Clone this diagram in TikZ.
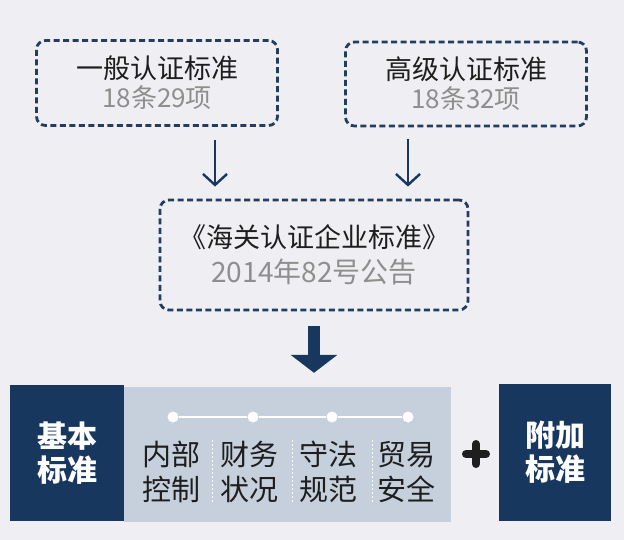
\documentclass[tikz,border=0pt]{standalone}
\usepackage{fontspec}
\setmainfont{Noto Sans CJK SC}
\usetikzlibrary{arrows.meta,positioning,calc}

\definecolor{navy}{HTML}{17375E}
\definecolor{dashnavy}{HTML}{223D5E}
\definecolor{paleblue}{HTML}{C6D0DC}
\definecolor{bggrey}{HTML}{EFEEF2}
\definecolor{subgrey}{HTML}{8E8E8E}
\definecolor{textblack}{HTML}{1E1E1E}

\tikzset{
  dashbox/.style={draw=dashnavy,line width=2.8pt,dash pattern=on 6pt off 3.5pt,
    rounded corners=9pt,align=center,text=textblack,inner sep=0pt,
    font=\fontsize{27}{29}\selectfont},
  thinarrow/.style={draw=navy,line width=2.4pt,-{Straight Barb[length=11pt,width=24pt]}},
  bigarrow/.style={draw=navy,line width=12pt,-{Triangle[length=18pt,width=46pt]}},
  darkbox/.style={fill=navy,text=white,align=center,inner sep=0pt,
    font=\bfseries\fontsize{30}{34}\selectfont},
  colnode/.style={align=center,text=textblack,font=\fontsize{29}{35}\selectfont},
  dot/.style={circle,fill=white,minimum size=11pt,inner sep=0pt},
}

\begin{document}
\begin{tikzpicture}[x=1pt,y=-1pt]
\fill[bggrey] (0,0) rectangle (624,540);
\useasboundingbox (0,0) rectangle (624,540);

% top: the two standards
\node[dashbox,minimum width=241pt,minimum height=85pt] (general) at (157,83)
  {一般认证标准\\{\color{subgrey}\fontsize{26}{29}\selectfont 18条29项}};
\node[dashbox,minimum width=241pt,minimum height=84pt] (advanced) at (466,84)
  {高级认证标准\\{\color{subgrey}\fontsize{26}{29}\selectfont 18条32项}};

% middle
\node[dashbox,minimum width=308pt,minimum height=110pt] (customs) at (314,255)
  {《海关认证企业标准》\\[6pt]{\color{subgrey}\fontsize{28}{29}\selectfont 2014年82号公告}};

\coordinate (a1) at (215,0);
\coordinate (a2) at (408,0);
\draw[thinarrow,shorten <=13pt,shorten >=12pt] (general.south -| a1) -- (customs.north -| a1);
\draw[thinarrow,shorten <=12pt,shorten >=12pt] (advanced.south -| a2) -- (customs.north -| a2);

% bottom row
\node[fill=paleblue,minimum width=327pt,minimum height=135pt,inner sep=0pt] (core) at (287.5,454.5) {};
\node[darkbox,minimum width=114pt,minimum height=136pt] (basic) at (67,453) {基本\\标准};
\node[darkbox,minimum width=112pt,minimum height=137pt] (extra) at (555,452.5) {附加\\标准};

\draw[bigarrow,shorten <=15pt,shorten >=14pt] (customs.south) -- (customs.south |- core.north);

\foreach \i/\x in {1/173,2/253,3/332,4/408}
  \node[dot] (d\i) at (\x,417) {};
\draw[white,line width=1.5pt] (d1) -- (d2) -- (d3) -- (d4);

\foreach \name/\x/\ta/\tb in {ic/171/内部/控制,fs/249/财务/状况,lc/328/守法/规范,ts/406/贸易/安全}
  \node[colnode] (\name) at (\x,472) {\ta\\\tb};

\foreach \x in {212,292,372}
  \draw[white,line width=0.8pt,dash pattern=on 2pt off 2pt] (\x,440) -- (\x,502);

% plus sign
\coordinate (plus) at (476,454);
\draw[textblack,line width=8pt,line cap=round]
  ($(plus)+(-10,0)$) -- ($(plus)+(10,0)$)
  ($(plus)+(0,-10)$) -- ($(plus)+(0,10)$);

\end{tikzpicture}
\end{document}
